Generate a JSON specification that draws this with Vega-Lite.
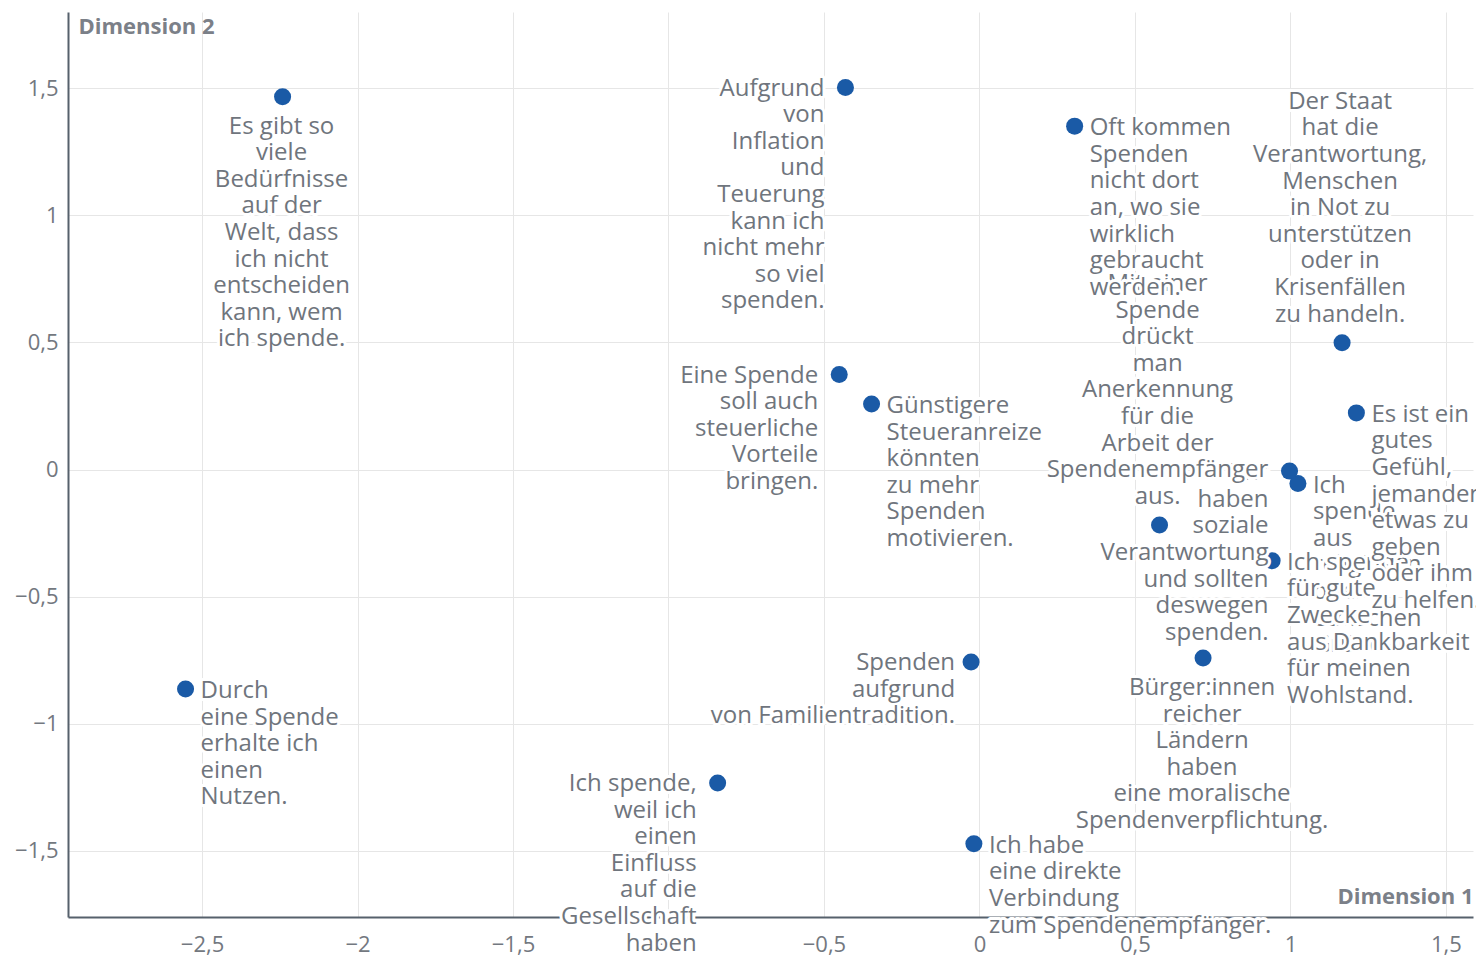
{
  "$schema": "https://vega.github.io/schema/vega-lite/v6.json",
  "width": 1405,
  "height": 905,
  "autosize": {"type": "none"},
  "padding": {"left": 68, "top": 12, "right": 3, "bottom": 40},
  "background": "white",
  "config": {
    "view": {"stroke": null},
    "text": {"font": "Open Sans", "fontSize": 24, "lineHeight": 26.6},
    "axis": {
      "domainColor": "#56616c", "domainWidth": 2,
      "gridColor": "#e6e6e6", "gridWidth": 1,
      "ticks": false, "tickSize": 0,
      "labelFont": "Open Sans", "labelFontSize": 22, "labelColor": "#737880",
      "titleFont": "Open Sans", "titleFontSize": 22, "titleFontWeight": "bold", "titleColor": "#7b8088",
      "labelFlush": false, "labelOverlap": false
    }
  },
  "data": {"values": [
    {"id": "es_gibt", "x": -2.241, "y": 1.467, "label": "Es gibt so\nviele\nBedürfnisse\nauf der\nWelt, dass\nich nicht\nentscheiden\nkann, wem\nich spende."},
    {"id": "aufgrund", "x": -0.431, "y": 1.503, "label": "Aufgrund\nvon\nInflation\nund\nTeuerung\nkann ich\nnicht mehr\nso viel\nspenden."},
    {"id": "eine", "x": -0.451, "y": 0.374, "label": "Eine Spende\nsoll auch\nsteuerliche\nVorteile\nbringen."},
    {"id": "guenst", "x": -0.347, "y": 0.258, "label": "Günstigere\nSteueranreize\nkönnten\nzu mehr\nSpenden\nmotivieren."},
    {"id": "durch", "x": -2.553, "y": -0.863, "label": "Durch\neine Spende\nerhalte ich\neinen\nNutzen."},
    {"id": "weil", "x": -0.842, "y": -1.233, "label": "Ich spende,\nweil ich\neinen\nEinfluss\nauf die\nGesellschaft\nhaben"},
    {"id": "familie", "x": -0.027, "y": -0.757, "label": "Spenden\naufgrund\nvon Familientradition."},
    {"id": "habe", "x": -0.018, "y": -1.472, "label": "Ich habe\neine direkte\nVerbindung\nzum Spendenempfänger."},
    {"id": "buerger", "x": 0.719, "y": -0.741, "label": "Bürger:innen\nreicher\nLändern\nhaben\neine moralische\nSpendenverpflichtung."},
    {"id": "ich_aus", "x": 1.024, "y": -0.055, "label": "Ich\nspende\naus\nreligiösen\noder\nethischen\nGründen."},
    {"id": "wir", "x": 0.997, "y": -0.006, "label": "Wir\nhaben\nsoziale\nVerantwortung\nund sollten\ndeswegen\nspenden."},
    {"id": "gute", "x": 0.941, "y": -0.359, "label": "Ich spende\nfür gute\nZwecke\naus Dankbarkeit\nfür meinen\nWohlstand."},
    {"id": "gefuehl", "x": 1.212, "y": 0.223, "label": "Es ist ein\ngutes\nGefühl,\njemandem\netwas zu\ngeben\noder ihm\nzu helfen."},
    {"id": "anerk", "x": 0.579, "y": -0.218, "label": "Mit einer\nSpende\ndrückt\nman\nAnerkennung\nfür die\nArbeit der\nSpendenempfänger\naus."},
    {"id": "oft", "x": 0.306, "y": 1.351, "label": "Oft kommen\nSpenden\nnicht dort\nan, wo sie\nwirklich\ngebraucht\nwerden."},
    {"id": "staat", "x": 1.166, "y": 0.499, "label": "Der Staat\nhat die\nVerantwortung,\nMenschen\nin Not zu\nunterstützen\noder in\nKrisenfällen\nzu handeln."}
  ]},
  "encoding": {
    "x": {"field": "x", "type": "quantitative",
      "scale": {"domain": [-2.931, 1.587], "nice": false, "zero": false},
      "axis": {"values": [-2.5, -2, -1.5, -1, -0.5, 0, 0.5, 1, 1.5],
        "labelExpr": "replace(format(datum.value, '~r'), '.', ',')",
        "labelPadding": 17, "labelBaseline": "top",
        "title": "Dimension 1", "titleX": 1405, "titleY": -21, "titleAlign": "right", "titleBaseline": "middle", "titleAngle": 0}},
    "y": {"field": "y", "type": "quantitative",
      "scale": {"domain": [-1.76, 1.8], "nice": false, "zero": false},
      "axis": {"values": [-1.5, -1, -0.5, 0, 0.5, 1, 1.5],
        "labelExpr": "replace(format(datum.value, '~r'), '.', ',')",
        "labelPadding": 10, "labelAlign": "right", "labelBaseline": "middle",
        "title": "Dimension 2", "titleX": 10, "titleY": 14, "titleAlign": "left", "titleBaseline": "middle", "titleAngle": 0}}
  },
  "layer": [
    {"mark": {"type": "circle", "size": 290, "color": "#1a5aa6", "opacity": 1}},
    {"transform": [{"filter": "datum.id === 'es_gibt'"}], "encoding": {"text": {"field": "label"}}, "layer": [
      {"mark": {"type": "text", "align": "center", "baseline": "alphabetic", "dx": -1, "dy": 37, "lineBreak": "\n", "color": "white", "stroke": "white", "strokeWidth": 6, "strokeJoin": "round"}},
      {"mark": {"type": "text", "align": "center", "baseline": "alphabetic", "dx": -1, "dy": 37, "lineBreak": "\n", "color": "#6f757d"}}]},
    {"transform": [{"filter": "datum.id === 'aufgrund'"}], "encoding": {"text": {"field": "label"}}, "layer": [
      {"mark": {"type": "text", "align": "right", "baseline": "alphabetic", "dx": -21, "dy": 8, "lineBreak": "\n", "color": "white", "stroke": "white", "strokeWidth": 6, "strokeJoin": "round"}},
      {"mark": {"type": "text", "align": "right", "baseline": "alphabetic", "dx": -21, "dy": 8, "lineBreak": "\n", "color": "#6f757d"}}]},
    {"transform": [{"filter": "datum.id === 'eine'"}], "encoding": {"text": {"field": "label"}}, "layer": [
      {"mark": {"type": "text", "align": "right", "baseline": "alphabetic", "dx": -21, "dy": 8, "lineBreak": "\n", "color": "white", "stroke": "white", "strokeWidth": 6, "strokeJoin": "round"}},
      {"mark": {"type": "text", "align": "right", "baseline": "alphabetic", "dx": -21, "dy": 8, "lineBreak": "\n", "color": "#6f757d"}}]},
    {"transform": [{"filter": "datum.id === 'guenst'"}], "encoding": {"text": {"field": "label"}}, "layer": [
      {"mark": {"type": "text", "align": "left", "baseline": "alphabetic", "dx": 15, "dy": 9, "lineBreak": "\n", "color": "white", "stroke": "white", "strokeWidth": 6, "strokeJoin": "round"}},
      {"mark": {"type": "text", "align": "left", "baseline": "alphabetic", "dx": 15, "dy": 9, "lineBreak": "\n", "color": "#6f757d"}}]},
    {"transform": [{"filter": "datum.id === 'durch'"}], "encoding": {"text": {"field": "label"}}, "layer": [
      {"mark": {"type": "text", "align": "left", "baseline": "alphabetic", "dx": 15, "dy": 9, "lineBreak": "\n", "color": "white", "stroke": "white", "strokeWidth": 6, "strokeJoin": "round"}},
      {"mark": {"type": "text", "align": "left", "baseline": "alphabetic", "dx": 15, "dy": 9, "lineBreak": "\n", "color": "#6f757d"}}]},
    {"transform": [{"filter": "datum.id === 'weil'"}], "encoding": {"text": {"field": "label"}}, "layer": [
      {"mark": {"type": "text", "align": "right", "baseline": "alphabetic", "dx": -21, "dy": 8, "lineBreak": "\n", "color": "white", "stroke": "white", "strokeWidth": 6, "strokeJoin": "round"}},
      {"mark": {"type": "text", "align": "right", "baseline": "alphabetic", "dx": -21, "dy": 8, "lineBreak": "\n", "color": "#6f757d"}}]},
    {"transform": [{"filter": "datum.id === 'familie'"}], "encoding": {"text": {"field": "label"}}, "layer": [
      {"mark": {"type": "text", "align": "right", "baseline": "alphabetic", "dx": -16, "dy": 8, "lineBreak": "\n", "color": "white", "stroke": "white", "strokeWidth": 6, "strokeJoin": "round"}},
      {"mark": {"type": "text", "align": "right", "baseline": "alphabetic", "dx": -16, "dy": 8, "lineBreak": "\n", "color": "#6f757d"}}]},
    {"transform": [{"filter": "datum.id === 'habe'"}], "encoding": {"text": {"field": "label"}}, "layer": [
      {"mark": {"type": "text", "align": "left", "baseline": "alphabetic", "dx": 15, "dy": 9, "lineBreak": "\n", "color": "white", "stroke": "white", "strokeWidth": 6, "strokeJoin": "round"}},
      {"mark": {"type": "text", "align": "left", "baseline": "alphabetic", "dx": 15, "dy": 9, "lineBreak": "\n", "color": "#6f757d"}}]},
    {"transform": [{"filter": "datum.id === 'buerger'"}], "encoding": {"text": {"field": "label"}}, "layer": [
      {"mark": {"type": "text", "align": "center", "baseline": "alphabetic", "dx": -1, "dy": 37, "lineBreak": "\n", "color": "white", "stroke": "white", "strokeWidth": 6, "strokeJoin": "round"}},
      {"mark": {"type": "text", "align": "center", "baseline": "alphabetic", "dx": -1, "dy": 37, "lineBreak": "\n", "color": "#6f757d"}}]},
    {"transform": [{"filter": "datum.id === 'ich_aus'"}], "encoding": {"text": {"field": "label"}}, "layer": [
      {"mark": {"type": "text", "align": "left", "baseline": "alphabetic", "dx": 15, "dy": 9, "lineBreak": "\n", "color": "white", "stroke": "white", "strokeWidth": 6, "strokeJoin": "round"}},
      {"mark": {"type": "text", "align": "left", "baseline": "alphabetic", "dx": 15, "dy": 9, "lineBreak": "\n", "color": "#6f757d"}}]},
    {"transform": [{"filter": "datum.id === 'wir'"}], "encoding": {"text": {"field": "label"}}, "layer": [
      {"mark": {"type": "text", "align": "right", "baseline": "alphabetic", "dx": -21, "dy": 9, "lineBreak": "\n", "color": "white", "stroke": "white", "strokeWidth": 6, "strokeJoin": "round"}},
      {"mark": {"type": "text", "align": "right", "baseline": "alphabetic", "dx": -21, "dy": 9, "lineBreak": "\n", "color": "#6f757d"}}]},
    {"transform": [{"filter": "datum.id === 'gute'"}], "encoding": {"text": {"field": "label"}}, "layer": [
      {"mark": {"type": "text", "align": "left", "baseline": "alphabetic", "dx": 15, "dy": 9, "lineBreak": "\n", "color": "white", "stroke": "white", "strokeWidth": 6, "strokeJoin": "round"}},
      {"mark": {"type": "text", "align": "left", "baseline": "alphabetic", "dx": 15, "dy": 9, "lineBreak": "\n", "color": "#6f757d"}}]},
    {"transform": [{"filter": "datum.id === 'gefuehl'"}], "encoding": {"text": {"field": "label"}}, "layer": [
      {"mark": {"type": "text", "align": "left", "baseline": "alphabetic", "dx": 15, "dy": 9, "lineBreak": "\n", "color": "white", "stroke": "white", "strokeWidth": 6, "strokeJoin": "round"}},
      {"mark": {"type": "text", "align": "left", "baseline": "alphabetic", "dx": 15, "dy": 9, "lineBreak": "\n", "color": "#6f757d"}}]},
    {"transform": [{"filter": "datum.id === 'anerk'"}], "encoding": {"text": {"field": "label"}}, "layer": [
      {"mark": {"type": "text", "align": "center", "baseline": "alphabetic", "dx": -2, "dy": -234, "lineBreak": "\n", "color": "white", "stroke": "white", "strokeWidth": 6, "strokeJoin": "round"}},
      {"mark": {"type": "text", "align": "center", "baseline": "alphabetic", "dx": -2, "dy": -234, "lineBreak": "\n", "color": "#6f757d"}}]},
    {"transform": [{"filter": "datum.id === 'oft'"}], "encoding": {"text": {"field": "label"}}, "layer": [
      {"mark": {"type": "text", "align": "left", "baseline": "alphabetic", "dx": 15, "dy": 9, "lineBreak": "\n", "color": "white", "stroke": "white", "strokeWidth": 6, "strokeJoin": "round"}},
      {"mark": {"type": "text", "align": "left", "baseline": "alphabetic", "dx": 15, "dy": 9, "lineBreak": "\n", "color": "#6f757d"}}]},
    {"transform": [{"filter": "datum.id === 'staat'"}], "encoding": {"text": {"field": "label"}}, "layer": [
      {"mark": {"type": "text", "align": "center", "baseline": "alphabetic", "dx": -2, "dy": -234, "lineBreak": "\n", "color": "white", "stroke": "white", "strokeWidth": 6, "strokeJoin": "round"}},
      {"mark": {"type": "text", "align": "center", "baseline": "alphabetic", "dx": -2, "dy": -234, "lineBreak": "\n", "color": "#6f757d"}}]}
  ]
}
